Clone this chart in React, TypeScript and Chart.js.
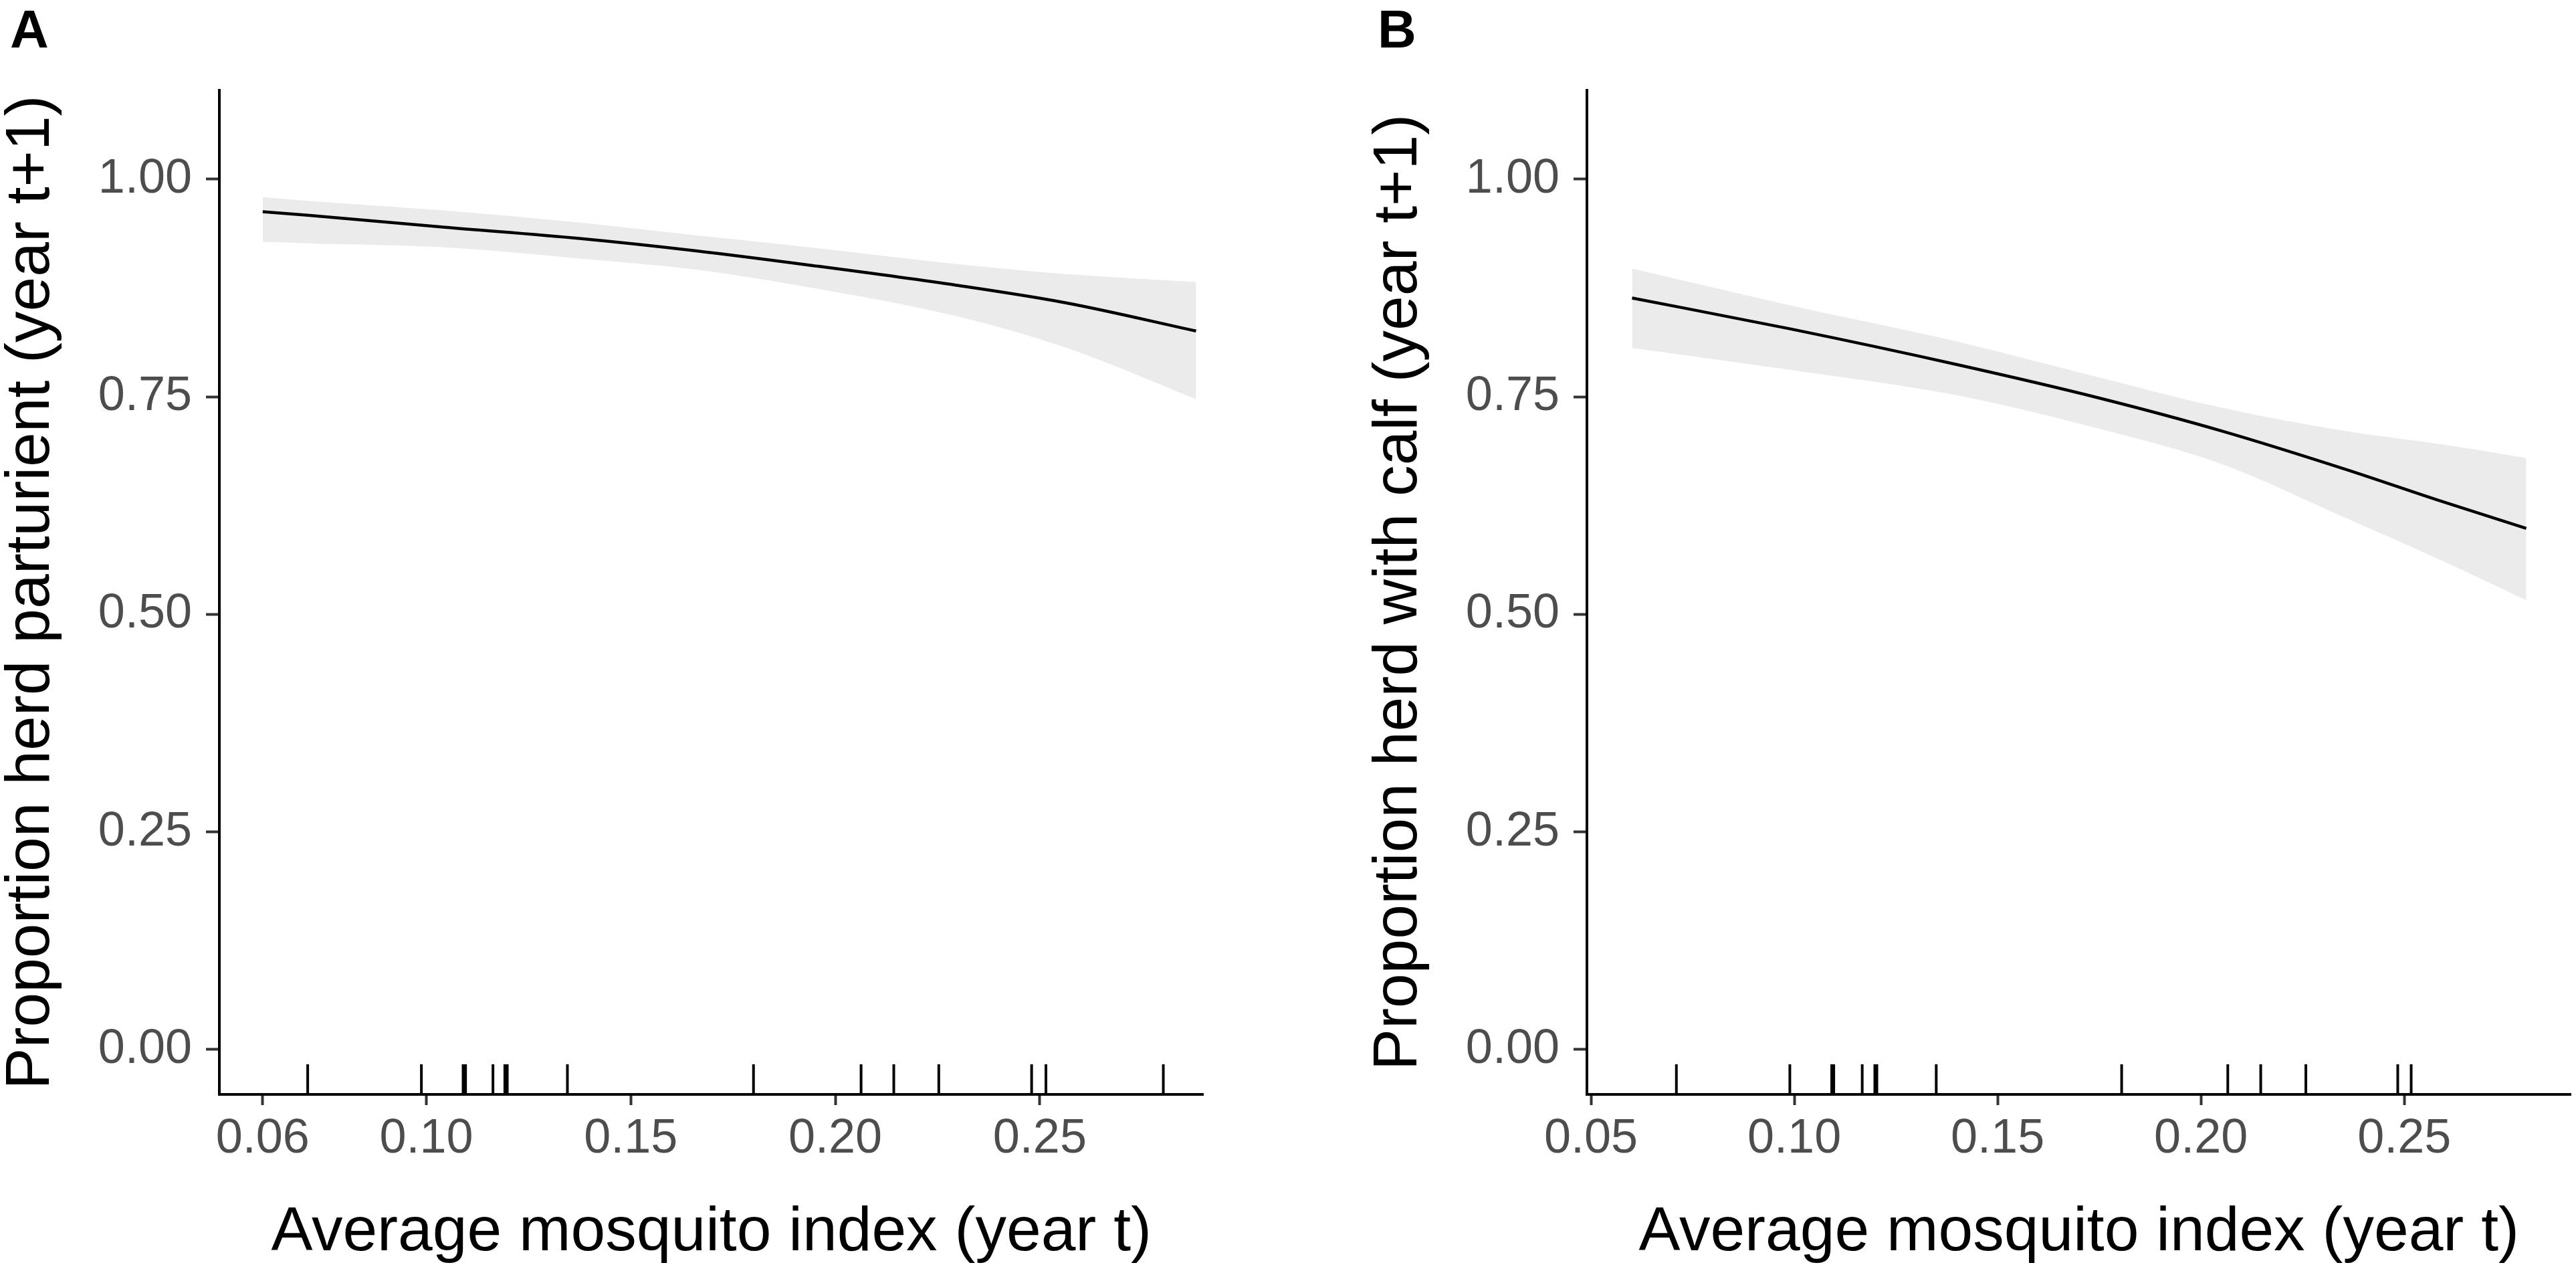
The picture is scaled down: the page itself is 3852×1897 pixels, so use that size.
import { useEffect, useRef } from 'react';
import { Chart, registerables } from 'chart.js';

Chart.register(...registerables);

const FONT = "'Liberation Sans', Arial, Helvetica, sans-serif";

// ---- shared axis data ----
const Y_TICKS = [0, 0.25, 0.5, 0.75, 1.0];
const Y_MIN = -0.0515;
const Y_MAX = 1.102;
const X_TITLE = 'Average mosquito index (year t)';

// ---- Panel A ----
const A_LABEL = 'A';
const A_Y_TITLE = 'Proportion herd parturient (year t+1)';
const A_X_TICKS = [0.06, 0.1, 0.15, 0.2, 0.25];
const A_X_MIN = 0.0494;
const A_X_MAX = 0.29;
const A_X = [0.06, 0.071, 0.1046, 0.1375, 0.1656, 0.1938, 0.2297, 0.2564, 0.2882];
const A_FIT = [0.9626, 0.9585, 0.9447, 0.9318, 0.9178, 0.9011, 0.878, 0.8578, 0.8255];
const A_UPPER = [0.9792, 0.9751, 0.9639, 0.95, 0.9357, 0.9216, 0.9024, 0.8909, 0.8819];
const A_LOWER = [0.928, 0.9263, 0.9216, 0.9088, 0.8962, 0.8755, 0.8424, 0.8063, 0.7474];
const A_RUG = [0.071, 0.0988, 0.109, 0.1096, 0.1163, 0.1192, 0.1198, 0.1345, 0.18, 0.2063, 0.2143, 0.2253, 0.248, 0.2515, 0.2802];

// ---- Panel B ----
const B_LABEL = 'B';
const B_Y_TITLE = 'Proportion herd with calf (year t+1)';
const B_X_TICKS = [0.05, 0.1, 0.15, 0.2, 0.25];
const B_X_MIN = 0.049;
const B_X_MAX = 0.291;
const B_X = [0.0601, 0.0988, 0.14, 0.1748, 0.2053, 0.2357, 0.2584, 0.28];
const B_FIT = [0.8634, 0.8281, 0.7869, 0.7487, 0.7104, 0.6664, 0.631, 0.5988];
const B_UPPER = [0.8972, 0.8552, 0.8135, 0.7723, 0.7371, 0.7104, 0.6958, 0.6796];
const B_LOWER = [0.806, 0.781, 0.7516, 0.7135, 0.6723, 0.6105, 0.5634, 0.5163];
const B_RUG = [0.071, 0.0989, 0.1092, 0.1097, 0.1167, 0.1198, 0.1203, 0.1349, 0.1805, 0.2066, 0.2147, 0.2258, 0.2484, 0.2517];

type Panel = {
  label: string;
  yTitle: string;
  xTicks: number[];
  xMin: number;
  xMax: number;
  x: number[];
  fit: number[];
  upper: number[];
  lower: number[];
  rug: number[];
};

const PANELS: Panel[] = [
  { label: A_LABEL, yTitle: A_Y_TITLE, xTicks: A_X_TICKS, xMin: A_X_MIN, xMax: A_X_MAX, x: A_X, fit: A_FIT, upper: A_UPPER, lower: A_LOWER, rug: A_RUG },
  { label: B_LABEL, yTitle: B_Y_TITLE, xTicks: B_X_TICKS, xMin: B_X_MIN, xMax: B_X_MAX, x: B_X, fit: B_FIT, upper: B_UPPER, lower: B_LOWER, rug: B_RUG },
];

const CANVAS_W = 1807;
const CANVAS_H = 1897;
const PANEL_LEFT = [0, 2045];

function zip(xs: number[], ys: number[]) {
  return xs.map((x, i) => ({ x, y: ys[i] }));
}

function makeConfig(p: Panel): any {
  const rugTop = Y_MIN + 0.03 * (Y_MAX - Y_MIN);
  const rugData: any[] = [];
  p.rug.forEach((r) => {
    rugData.push({ x: r, y: Y_MIN }, { x: r, y: rugTop }, { x: r, y: null });
  });
  const tickFont = { family: FONT, size: 72 };
  return {
    type: 'line',
    data: {
      datasets: [
        {
          label: 'fit',
          data: zip(p.x, p.fit),
          borderColor: '#000000',
          borderWidth: 4.5,
          pointRadius: 0,
          fill: false,
          cubicInterpolationMode: 'monotone',
        },
        {
          label: 'upper',
          data: zip(p.x, p.upper),
          borderColor: 'rgba(0,0,0,0)',
          borderWidth: 0,
          pointRadius: 0,
          fill: false,
          cubicInterpolationMode: 'monotone',
        },
        {
          label: 'lower',
          data: zip(p.x, p.lower),
          borderColor: 'rgba(0,0,0,0)',
          borderWidth: 0,
          pointRadius: 0,
          fill: '-1',
          backgroundColor: '#EBEBEB',
          cubicInterpolationMode: 'monotone',
        },
        {
          label: 'rug',
          data: rugData,
          borderColor: '#000000',
          borderWidth: 4,
          pointRadius: 0,
          fill: false,
          spanGaps: false,
          tension: 0,
        },
      ],
    },
    options: {
      responsive: false,
      animation: false,
      devicePixelRatio: 1,
      events: [],
      layout: { padding: { left: 15, top: 0, right: 7.5, bottom: 0 } },
      plugins: {
        legend: { display: false },
        tooltip: { enabled: false },
        title: {
          display: true,
          text: p.label,
          align: 'start',
          color: '#000000',
          font: { family: FONT, size: 80, weight: 'bold', lineHeight: 1 },
          padding: { top: 8.5, bottom: 46.5 },
        },
      },
      scales: {
        x: {
          type: 'linear',
          min: p.xMin,
          max: p.xMax,
          afterBuildTicks: (s: any) => {
            s.ticks = p.xTicks.map((v) => ({ value: v }));
          },
          afterFit: (s: any) => {
            s.height = 261;
          },
          ticks: {
            callback: (v: any) => Number(v).toFixed(2),
            font: tickFont,
            color: '#4D4D4D',
            padding: 8,
            maxRotation: 0,
            autoSkip: false,
          },
          grid: {
            display: true,
            drawOnChartArea: false,
            drawTicks: true,
            tickLength: 16,
            tickWidth: 4,
            tickColor: '#333333',
          },
          border: { display: true, color: '#000000', width: 4 },
          title: {
            display: true,
            text: X_TITLE,
            color: '#000000',
            font: { family: FONT, size: 93, lineHeight: 1 },
            padding: { top: 0, bottom: 7.5 },
          },
        },
        y: {
          type: 'linear',
          min: Y_MIN,
          max: Y_MAX,
          afterBuildTicks: (s: any) => {
            s.ticks = Y_TICKS.map((v) => ({ value: v }));
          },
          afterFit: (s: any) => {
            s.width = 313;
          },
          ticks: {
            callback: (v: any) => Number(v).toFixed(2),
            font: tickFont,
            color: '#4D4D4D',
            padding: 21,
            autoSkip: false,
          },
          grid: {
            display: true,
            drawOnChartArea: false,
            drawTicks: true,
            tickLength: 20,
            tickWidth: 4,
            tickColor: '#333333',
          },
          border: { display: true, color: '#000000', width: 4 },
          title: {
            display: true,
            text: p.yTitle,
            color: '#000000',
            font: { family: FONT, size: 93, lineHeight: 0.7 },
            padding: { top: 0, bottom: 0 },
          },
        },
      },
    },
  };
}

function PanelChart({ panel, left }: { panel: Panel; left: number }) {
  const ref = useRef<HTMLCanvasElement | null>(null);
  useEffect(() => {
    if (!ref.current) return;
    const chart = new Chart(ref.current, makeConfig(panel));
    return () => chart.destroy();
  }, [panel]);
  return (
    <canvas
      ref={ref}
      width={CANVAS_W}
      height={CANVAS_H}
      style={{ position: 'absolute', left, top: 0, width: CANVAS_W, height: CANVAS_H }}
    />
  );
}

export default function App() {
  useEffect(() => {
    document.body.style.margin = '0';
    document.body.style.background = '#ffffff';
  }, []);
  return (
    <div style={{ position: 'relative', width: 3852, height: 1897, background: '#ffffff', overflow: 'hidden' }}>
      {PANELS.map((p, i) => (
        <PanelChart key={p.label} panel={p} left={PANEL_LEFT[i]} />
      ))}
    </div>
  );
}
